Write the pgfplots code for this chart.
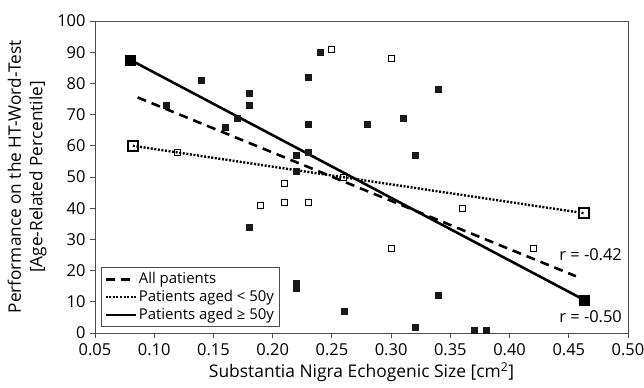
\documentclass[border=0pt]{standalone}
\usepackage{pgfplots}
\pgfplotsset{compat=1.18}
\usepackage{fontspec}
\setmainfont{Open Sans}
\begin{document}
\fontsize{16}{20}\selectfont
\begin{tikzpicture}
\begin{axis}[
  width=533bp, height=312bp, scale only axis,
  xmin=0.05, xmax=0.5, ymin=0, ymax=100,
  xtick={0.05,0.10,0.15,0.20,0.25,0.30,0.35,0.40,0.45,0.50},
  ytick={0,10,...,100},
  xticklabel style={/pgf/number format/fixed, /pgf/number format/fixed zerofill, /pgf/number format/precision=2},
  /pgf/number format/assume math mode=true,
  tick align=outside, xtick pos=bottom, ytick pos=left,
  major tick length=5bp,
  every tick/.style={gray!60!black, line width=0.8pt},
  axis line style={gray!60!black, line width=0.8pt},
  ticklabel style={font=\fontsize{16.5}{20}\selectfont},
  yticklabel style={xshift=1bp},
  xticklabel style={yshift=0bp},
  xlabel={Substantia Nigra Echogenic Size [cm\textsuperscript{2}]},
  ylabel={Performance on the HT-Word-Test\\{[}Age-Related Percentile{]}},
  ylabel style={align=center, font=\fontsize{17.3}{21.5}\selectfont, yshift=0bp},
  xlabel style={font=\fontsize{17.5}{20}\selectfont, yshift=4bp},
  legend style={at={(0.011,0.019)}, anchor=south west, draw=gray!60!black, line width=0.8pt,
    font=\fontsize{15}{17}\selectfont, inner sep=3bp, row sep=0bp, cells={anchor=west}},
  legend cell align=left,
  legend image code/.code={\draw[#1] (0cm,0cm) -- (30bp,0cm);},
  clip=false,
]
% regression lines
\addplot[black, line width=2.6pt, dash pattern=on 9bp off 6bp] coordinates {(0.086,75.5) (0.456,18.2)};
\addlegendentry{All patients}
\addplot[black, line width=2.4pt, dash pattern=on 2bp off 1.6bp] coordinates {(0.082,60) (0.463,38.4)};
\addlegendentry{Patients aged < 50y}
\addplot[black, line width=2.6pt] coordinates {(0.08,87.5) (0.463,10.6)};
\addlegendentry{Patients aged ≥ 50y}
% endpoint markers
\addplot[only marks, mark=square*, mark size=5bp, mark options={fill=black, draw=black}, forget plot] coordinates {(0.08,87.5) (0.463,10.6)};
\addplot[only marks, mark=square, mark size=5bp, mark options={fill=white, draw=black, line width=1.6pt}, forget plot] coordinates {(0.082,60) (0.463,38.4)};
% aged >= 50 (filled)
\addplot[only marks, mark=square*, mark size=3bp, mark options={fill=black!90, draw=black!90}, forget plot] coordinates {
(0.11,73) (0.14,81) (0.16,66) (0.17,69) (0.18,77) (0.18,73) (0.18,34)
(0.22,57) (0.22,52) (0.22,16) (0.22,14.5) (0.23,82) (0.23,67) (0.23,58) (0.24,90)
(0.26,7) (0.28,67) (0.31,69) (0.32,57) (0.32,2) (0.34,78) (0.34,12) (0.37,1) (0.38,1)
};
% aged < 50 (open)
\addplot[only marks, mark=square, mark size=3bp, mark options={fill=white, draw=black, line width=0.9pt}, forget plot] coordinates {
(0.12,58) (0.19,41) (0.21,48) (0.21,42) (0.23,42) (0.25,91) (0.26,50)
(0.30,88) (0.30,27) (0.36,40) (0.42,27)
};
\node[anchor=east, inner sep=0pt, font=\fontsize{16.5}{20}\selectfont] at (axis cs:0.495,25) {r = -0.42};
\node[anchor=east, inner sep=0pt, font=\fontsize{16.5}{20}\selectfont] at (axis cs:0.495,5.3) {r = -0.50};
\end{axis}
\pgfresetboundingbox
\path[use as bounding box] ([shift={(-95bp,-54bp)}]current axis.south west) rectangle ([shift={(16bp,21bp)}]current axis.north east);
\end{tikzpicture}
\end{document}
